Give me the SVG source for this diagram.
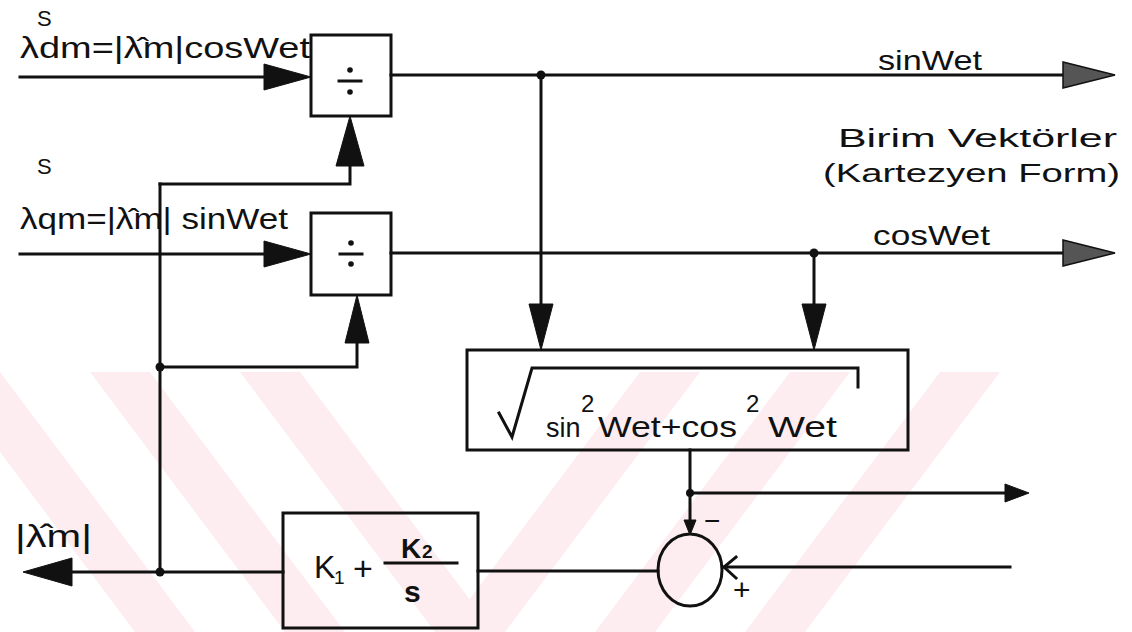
<svg xmlns="http://www.w3.org/2000/svg" width="1132" height="632" viewBox="0 0 1132 632">
<style>
.ln{fill:none;stroke:#111;stroke-width:3;stroke-linecap:square}
.bx{fill:none;stroke:#111;stroke-width:3}
.ah{fill:#111;stroke:#111;stroke-width:1}
.ag{fill:#555;stroke:#111;stroke-width:1.5}
.dot{fill:#111}
.t{font-family:"Liberation Sans","DejaVu Sans",Arial,sans-serif;fill:#111}
.wm{fill:#fdedf0}
</style>
<defs>
<clipPath id="wmclip"><rect x="0" y="372" width="1010" height="260"/></clipPath>
</defs>
<rect width="1132" height="632" fill="#fff"/>
<g id="watermark" clip-path="url(#wmclip)">
<polygon class="wm" points="-60,372 0,372 195,632 135,632"/>
<polygon class="wm" points="90,372 150,372 345,632 285,632"/>
<polygon class="wm" points="240,372 300,372 470,600 470,632 435,632"/>
<polygon class="wm" points="640,372 700,372 505,632 445,632"/>
<polygon class="wm" points="790,372 850,372 655,632 595,632"/>
<polygon class="wm" points="940,372 1000,372 805,632 745,632"/>
</g>
<g id="connectors">
<line class="ln" x1="20" y1="77" x2="270" y2="77"/>
<polygon class="ah" points="311,77 264,64 264,90"/>
<line class="ln" x1="20" y1="254" x2="270" y2="254"/>
<polygon class="ah" points="311,254 264,241 264,267"/>
<line class="ln" x1="391" y1="75" x2="1070" y2="75"/>
<polygon class="ag" points="1115,75 1063,62 1063,88"/>
<circle class="dot" cx="541" cy="75" r="4.5"/>
<line class="ln" x1="541" y1="75" x2="541" y2="310"/>
<polygon class="ah" points="541,350 529,304 553,304"/>
<line class="ln" x1="391" y1="253" x2="1070" y2="253"/>
<polygon class="ag" points="1115,253 1063,240 1063,266"/>
<circle class="dot" cx="814" cy="253" r="4.5"/>
<line class="ln" x1="814" y1="253" x2="814" y2="310"/>
<polygon class="ah" points="814,350 802,304 826,304"/>
<line class="ln" x1="60" y1="572" x2="283" y2="572"/>
<polygon class="ah" points="23,572 72,558 72,586"/>
<circle class="dot" cx="160" cy="572" r="4.5"/>
<line class="ln" x1="160" y1="184" x2="160" y2="572"/>
<polyline class="ln" points="160,184 350,184 350,160"/>
<polygon class="ah" points="350,116 336,166 364,166"/>
<circle class="dot" cx="160" cy="367" r="4.5"/>
<polyline class="ln" points="160,367 357,367 357,340"/>
<polygon class="ah" points="357,295 345,343 369,343"/>
<line class="ln" x1="690" y1="450" x2="690" y2="525"/>
<polygon class="ah" points="690,535 684,520 696,520"/>
<circle class="dot" cx="690" cy="493" r="4"/>
<line class="ln" x1="690" y1="493" x2="1010" y2="493"/>
<polygon class="ah" points="1029,493 1005,484 1005,502"/>
<line class="ln" x1="478" y1="571" x2="658" y2="571"/>
<line class="ln" x1="724" y1="567" x2="1010" y2="567"/>
<polyline class="ln" points="736,557 724,567 736,578"/>
</g>
<g id="div1">
<rect class="bx" x="311" y="35" width="80" height="81"/>
<line class="ln" x1="339" y1="81" x2="361" y2="81"/>
<circle class="dot" cx="350" cy="70" r="2.8"/>
<circle class="dot" cx="350" cy="92" r="2.8"/>
</g>
<g id="div2">
<rect class="bx" x="311" y="213" width="80" height="82"/>
<line class="ln" x1="340" y1="254" x2="362" y2="254"/>
<circle class="dot" cx="351" cy="243" r="2.8"/>
<circle class="dot" cx="351" cy="264" r="2.8"/>
</g>
<g id="sqrtbox">
<rect class="bx" x="467" y="350" width="441" height="100"/>
<polyline class="ln" points="499,413 512,437 532,368 858,368 858,387" style="stroke-linejoin:miter"/>
<text class="t" x="546" y="437" font-size="27">sin</text>
<text class="t" x="581" y="412" font-size="24">2</text>
<text class="t" x="598" y="437" font-size="29" textLength="139" lengthAdjust="spacingAndGlyphs">Wet+cos</text>
<text class="t" x="746" y="412" font-size="24">2</text>
<text class="t" x="768" y="437" font-size="29" textLength="69" lengthAdjust="spacingAndGlyphs">Wet</text>
</g>
<g id="pi">
<rect class="bx" x="283" y="513" width="195" height="115"/>
<text class="t" x="314" y="578" font-size="32">K</text>
<text class="t" x="334" y="584" font-size="19">1</text>
<text class="t" x="353" y="580" font-size="34">+</text>
<text class="t" x="401" y="558" font-size="28" font-weight="bold">K</text>
<text class="t" x="422" y="558" font-size="19" font-weight="bold">2</text>
<line class="ln" x1="385" y1="563" x2="457" y2="563"/>
<text class="t" x="404" y="602" font-size="30" font-weight="bold">s</text>
</g>
<g id="summer">
<ellipse cx="690" cy="570" rx="32" ry="36" fill="none" stroke="#111" stroke-width="3"/>
<text class="t" x="704" y="530" font-size="28">−</text>
<text class="t" x="733" y="600" font-size="30">+</text>
</g>
<g id="labels">
<text class="t" x="37" y="26" font-size="22">S</text>
<text class="t" x="20" y="58" font-size="30" textLength="290" lengthAdjust="spacingAndGlyphs">λdm=|λ̂m|cosWet</text>
<text class="t" x="37" y="174" font-size="22">S</text>
<text class="t" x="20" y="229" font-size="30" textLength="268" lengthAdjust="spacingAndGlyphs">λqm=|λ̂m| sinWet</text>
<text class="t" x="878" y="70" font-size="28" textLength="104" lengthAdjust="spacingAndGlyphs">sinWet</text>
<text class="t" x="873" y="245" font-size="28" textLength="117" lengthAdjust="spacingAndGlyphs">cosWet</text>
<text class="t" x="838" y="147" font-size="25" textLength="279" lengthAdjust="spacingAndGlyphs">Birim Vektörler</text>
<text class="t" x="823" y="182" font-size="25" textLength="297" lengthAdjust="spacingAndGlyphs">(Kartezyen Form)</text>
<text class="t" x="15" y="547" font-size="32" textLength="77" lengthAdjust="spacingAndGlyphs">|λ̂m|</text>
</g>
</svg>
